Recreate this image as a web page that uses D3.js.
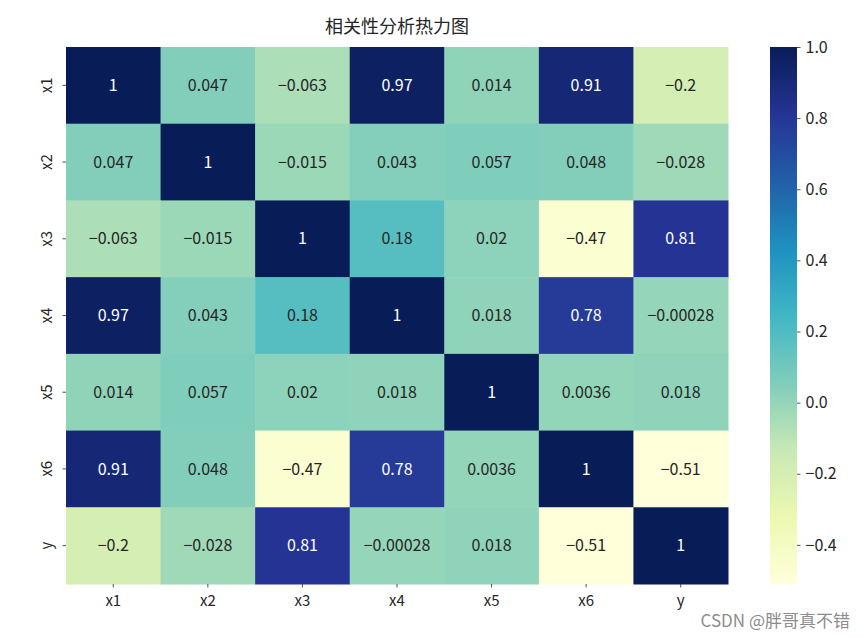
<!DOCTYPE html>
<html>
<head>
<meta charset="utf-8">
<script src="https://cdn.jsdelivr.net/npm/d3@7"></script>
<style>
  body { margin: 0; background: #fff; }
  text { font-family: "Noto Sans CJK SC", "DejaVu Sans", sans-serif; }
</style>
</head>
<body>
<div id="grafico"></div>
<script>
// data
var labels = ["x1", "x2", "x3", "x4", "x5", "x6", "y"];
var rowX1 = [1, 0.047, -0.063, 0.97, 0.014, 0.91, -0.2];
var rowX2 = [0.047, 1, -0.015, 0.043, 0.057, 0.048, -0.028];
var rowX3 = [-0.063, -0.015, 1, 0.18, 0.02, -0.47, 0.81];
var rowX4 = [0.97, 0.043, 0.18, 1, 0.018, 0.78, -0.00028];
var rowX5 = [0.014, 0.057, 0.02, 0.018, 1, 0.0036, 0.018];
var rowX6 = [0.91, 0.048, -0.47, 0.78, 0.0036, 1, -0.51];
var rowY  = [-0.2, -0.028, 0.81, -0.00028, 0.018, -0.51, 1];
var rows = [rowX1, rowX2, rowX3, rowX4, rowX5, rowX6, rowY];
var cbTicks = [-0.4, -0.2, 0.0, 0.2, 0.4, 0.6, 0.8, 1.0];

// YlGnBu like matplotlib (linear between brewer stops)
var ylgnbu = ["#ffffd9","#edf8b1","#c7e9b4","#7fcdbb","#41b6c4","#1d91c0","#225ea8","#253494","#081d58"];

var W = 865, H = 639;
var margin = {top: 47, left: 66};
var hmW = 662, hmH = 537;

var svg = d3.select("#grafico").append("svg")
  .attr("width", W).attr("height", H);

var vmin = d3.min(rows, function(r) { return d3.min(r); }),
    vmax = d3.max(rows, function(r) { return d3.max(r); });

var interp = d3.piecewise(d3.interpolateRgb, ylgnbu);
var color = function(v) { return interp((v - vmin) / (vmax - vmin)); };

var x = d3.scaleBand().domain(labels).range([margin.left, margin.left + hmW]);
var y = d3.scaleBand().domain(labels).range([margin.top, margin.top + hmH]);

var cells = [];
rows.forEach(function(r, i) {
  r.forEach(function(v, j) { cells.push({row: labels[i], col: labels[j], v: v}); });
});

var fmt = d3.format(".2~g");
function lum(c) {
  var rgb = d3.rgb(c);
  var f = function(u) { u /= 255; return u <= 0.03928 ? u / 12.92 : Math.pow((u + 0.055) / 1.055, 2.4); };
  return 0.2126 * f(rgb.r) + 0.7152 * f(rgb.g) + 0.0722 * f(rgb.b);
}

svg.append("g").selectAll("rect")
  .data(cells).enter().append("rect")
  .attr("x", function(d) { return x(d.col); })
  .attr("y", function(d) { return y(d.row); })
  .attr("width", x.bandwidth() + 0.5)
  .attr("height", y.bandwidth() + 0.5)
  .attr("fill", function(d) { return color(d.v); });

svg.append("g").selectAll("text")
  .data(cells).enter().append("text")
  .attr("x", function(d) { return x(d.col) + x.bandwidth() / 2; })
  .attr("y", function(d) { return y(d.row) + y.bandwidth() / 2; })
  .attr("text-anchor", "middle")
  .attr("dy", "0.35em")
  .attr("font-size", 16)
  .attr("fill", function(d) { return lum(color(d.v)) > 0.408 ? "#262626" : "#ffffff"; })
  .text(function(d) { return fmt(d.v).replace("-", "\u2212"); });

// axes
var xAxis = svg.append("g")
  .attr("transform", "translate(0," + (margin.top + hmH) + ")")
  .call(d3.axisBottom(x).tickSize(3.5).tickPadding(5));
var yAxis = svg.append("g")
  .attr("transform", "translate(" + margin.left + ",0)")
  .call(d3.axisLeft(y).tickSize(3.5).tickPadding(5));
[xAxis, yAxis].forEach(function(a) {
  a.select(".domain").remove();
  a.selectAll("line").attr("stroke", "#262626").attr("stroke-width", 0.8);
  a.selectAll("text").attr("font-size", 15).attr("fill", "#262626")
    .style("font-family", "\"Noto Sans CJK SC\", sans-serif");
});
xAxis.selectAll("text").attr("dy", "0.9em");
yAxis.selectAll("text")
  .attr("x", 0).attr("y", 0).attr("dy", "0em")
  .attr("transform", "translate(-14,0) rotate(-90)")
  .attr("text-anchor", "middle");

// title
svg.append("text")
  .attr("x", margin.left + hmW / 2)
  .attr("y", 33)
  .attr("text-anchor", "middle")
  .attr("font-size", 18)
  .attr("fill", "#262626")
  .text("相关性分析热力图");

// colorbar
var cbX = 770, cbW = 27;
var cy = d3.scaleLinear().domain([vmin, vmax]).range([margin.top + hmH, margin.top]);
var defs = svg.append("defs");
var grad = defs.append("linearGradient").attr("id", "cbgrad")
  .attr("x1", 0).attr("y1", 1).attr("x2", 0).attr("y2", 0);
d3.range(0, 1.0001, 0.02).forEach(function(t) {
  grad.append("stop").attr("offset", t).attr("stop-color", interp(t));
});
svg.append("rect")
  .attr("x", cbX).attr("y", margin.top)
  .attr("width", cbW).attr("height", hmH)
  .attr("fill", "url(#cbgrad)");
var cbAxis = svg.append("g")
  .attr("transform", "translate(" + (cbX + cbW) + ",0)")
  .call(d3.axisRight(cy).tickValues(cbTicks).tickSize(3.5).tickPadding(5)
    .tickFormat(function(d) { return d3.format(".1f")(d).replace("-", "\u2212"); }));
cbAxis.select(".domain").remove();
cbAxis.selectAll("line").attr("stroke", "#262626").attr("stroke-width", 0.8);
cbAxis.selectAll("text").attr("font-size", 16).attr("fill", "#262626")
  .style("font-family", "\"Noto Sans CJK SC\", sans-serif");

// watermark
svg.append("text")
  .attr("x", 850).attr("y", 627)
  .attr("text-anchor", "end")
  .attr("font-size", 17)
  .attr("fill", "#8c8c8c")
  .text("CSDN @胖哥真不错");
</script>
</body>
</html>
